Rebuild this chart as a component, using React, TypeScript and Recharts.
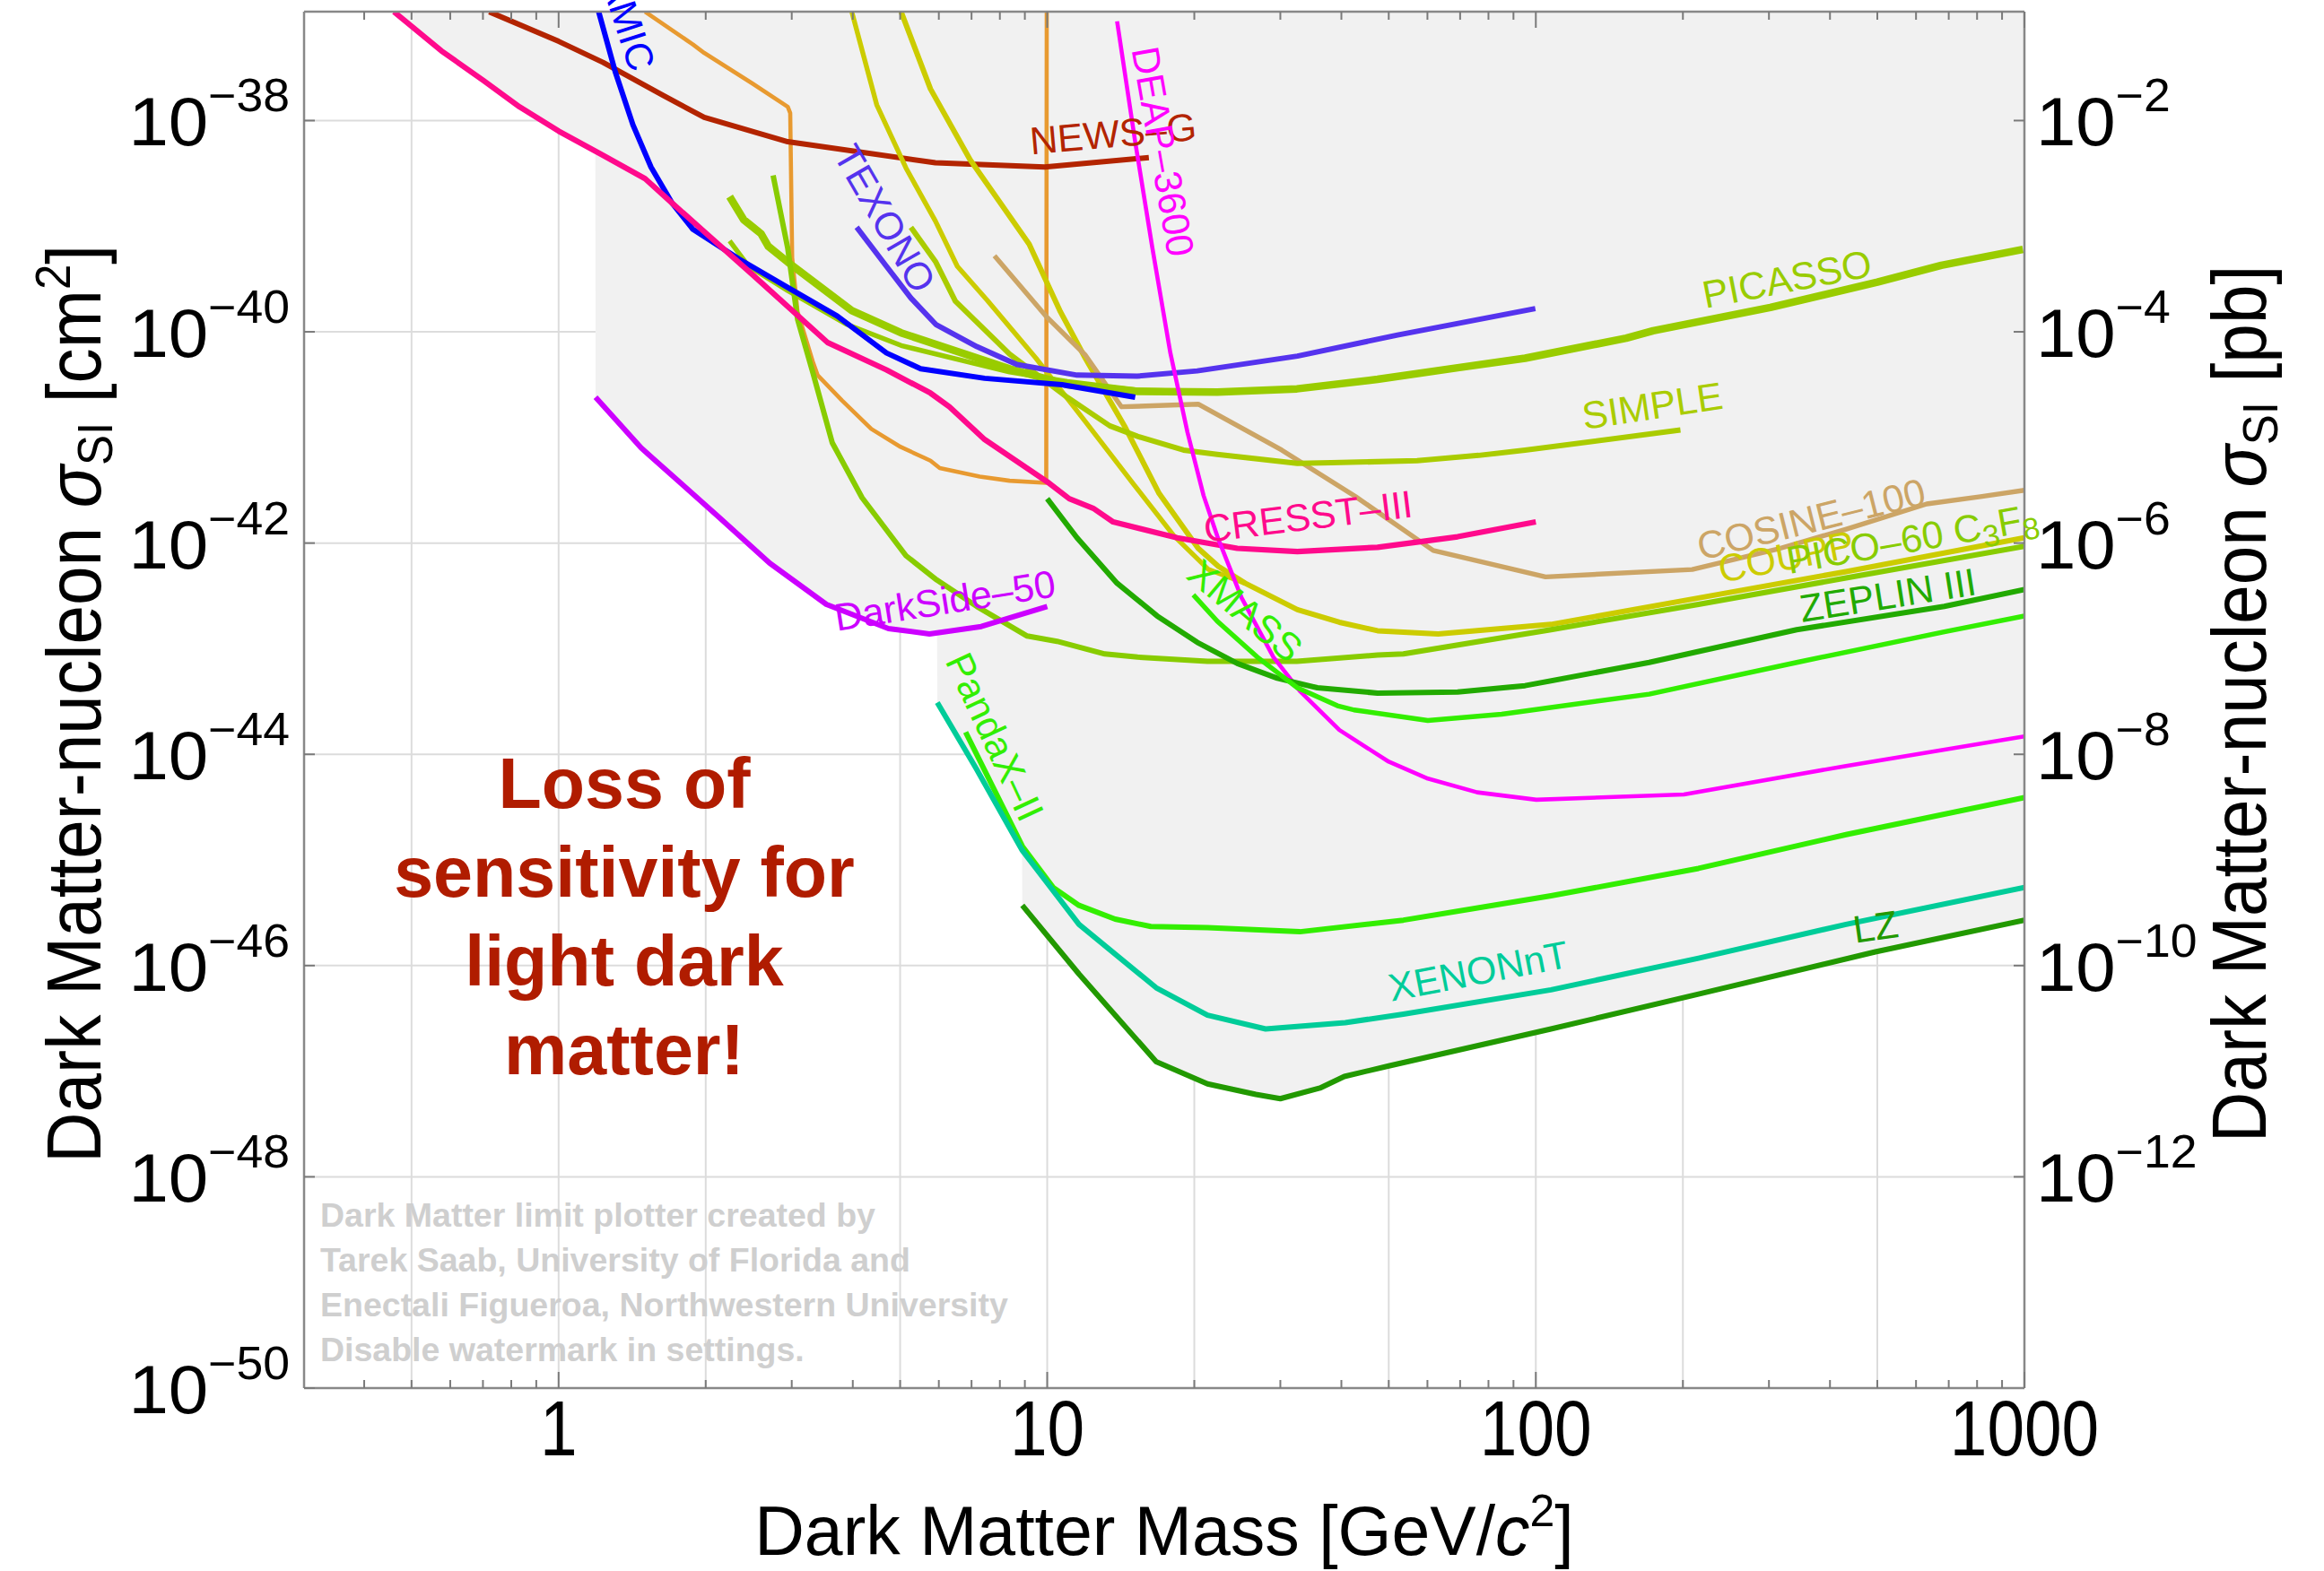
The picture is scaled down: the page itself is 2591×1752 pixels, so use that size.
import React from 'react';
import { ComposedChart, Line, Area, XAxis, YAxis, CartesianGrid, ReferenceDot } from 'recharts';

const WIDTH = 2591;
const HEIGHT = 1752;
const FONT = '"Liberation Sans", Arial, Helvetica, sans-serif';

// frame ranges, log10 units
const LX_MIN = -0.521;
const LX_MAX = 3;
const LY_MIN = -50;
const LY_TOP = -36.969;
const PB_SHIFT = 36; // 1 pb = 1e-36 cm^2

const X_TICKS = [0.4, 0.5, 0.6, 0.7, 0.8, 0.9, 1, 2, 3, 4, 5, 6, 7, 8, 9, 10, 20, 30, 40, 50, 60, 70, 80, 90,
  100, 200, 300, 400, 500, 600, 700, 800, 900, 1000];
const X_LABELS = [1, 10, 100, 1000];
const X_GRID = [0.5, 1, 2, 5, 10, 20, 50, 100, 200, 500];
const Y_EXP_CM2 = [-50, -48, -46, -44, -42, -40, -38];
const Y_EXP_PB = [-12, -10, -8, -6, -4, -2];
const Y_GRID_EXP = [-48, -46, -44, -42, -40, -38];

// curves: [log10(mass / GeV), log10(sigma / cm^2)]
const CRESST_III = [[-0.337, -36.97], [-0.24, -37.34], [-0.154, -37.62], [-0.08, -37.87], [0.0, -38.1], [0.091, -38.33],
  [0.177, -38.55], [0.232, -38.78], [0.397, -39.46], [0.55, -40.1], [0.671, -40.36], [0.761, -40.58], [0.8, -40.71],
  [0.872, -41.02], [1.0, -41.42], [1.045, -41.58], [1.094, -41.67], [1.135, -41.8], [1.266, -41.95], [1.389, -42.05],
  [1.512, -42.08], [1.676, -42.04], [1.84, -41.94], [2.0, -41.8]];
const DARKSIDE_50 = [[0.0756, -40.62], [0.169, -41.1], [0.327, -41.75], [0.432, -42.19], [0.548, -42.58], [0.675, -42.81],
  [0.759, -42.86], [0.865, -42.79], [1.0, -42.6]];
const XENON_NT = [[0.775, -43.51], [0.854, -44.13], [0.949, -44.91], [1.065, -45.61], [1.223, -46.21], [1.328, -46.47],
  [1.447, -46.6], [1.61, -46.54], [1.729, -46.46], [2.031, -46.23], [2.333, -45.93], [2.635, -45.61], [3.0, -45.26]];
const LZ = [[0.949, -45.43], [1.065, -46.08], [1.223, -46.91], [1.328, -47.12], [1.427, -47.22], [1.477, -47.26],
  [1.558, -47.16], [1.608, -47.05], [1.699, -46.95], [2.031, -46.6], [2.333, -46.27], [2.695, -45.87], [3.0, -45.57]];
const PANDAX_II = [[0.833, -43.79], [0.949, -44.87], [1.012, -45.26], [1.065, -45.43], [1.139, -45.56], [1.212, -45.63],
  [1.328, -45.64], [1.517, -45.68], [1.729, -45.57], [2.031, -45.34], [2.333, -45.08], [2.635, -44.76], [3.0, -44.41]];
const XMASS = [[1.299, -42.49], [1.348, -42.74], [1.43, -43.08], [1.512, -43.37], [1.594, -43.54], [1.628, -43.58],
  [1.779, -43.68], [1.93, -43.62], [2.232, -43.43], [2.534, -43.13], [2.836, -42.84], [3.0, -42.69]];
const ZEPLIN_III = [[1.0, -41.58], [1.061, -41.95], [1.143, -42.38], [1.225, -42.69], [1.307, -42.94], [1.389, -43.14],
  [1.471, -43.28], [1.553, -43.37], [1.676, -43.42], [1.84, -43.41], [1.978, -43.35], [2.232, -43.13], [2.534, -42.82],
  [2.836, -42.6], [3.0, -42.44]];
const DEAP_3600 = [[1.143, -37.06], [1.18, -38.2], [1.215, -39.2], [1.252, -40.2], [1.287, -40.95], [1.32, -41.55],
  [1.35, -41.96], [1.398, -42.52], [1.463, -43.08], [1.517, -43.4], [1.598, -43.77], [1.699, -44.07], [1.779, -44.23],
  [1.88, -44.36], [2.001, -44.43], [2.303, -44.38], [2.635, -44.11], [3.0, -43.83]];
const NEWS_G = [[-0.142, -36.97], [0.0, -37.25], [0.091, -37.45], [0.213, -37.76], [0.298, -37.97], [0.469, -38.2],
  [0.771, -38.4], [0.995, -38.44], [1.208, -38.35]];
const DAMIC = [[0.082, -36.97], [0.116, -37.54], [0.152, -38.04], [0.189, -38.44], [0.232, -38.78], [0.275, -39.03],
  [0.369, -39.31], [0.469, -39.58], [0.57, -39.85], [0.671, -40.2], [0.741, -40.35], [0.872, -40.44], [1.03, -40.5],
  [1.18, -40.62]];
const TEXONO = [[0.61, -39.01], [0.671, -39.38], [0.721, -39.68], [0.772, -39.93], [0.856, -40.14], [0.938, -40.31],
  [1.061, -40.41], [1.184, -40.42], [1.307, -40.37], [1.512, -40.23], [1.717, -40.03], [1.999, -39.78]];
const PICASSO = [[0.35, -38.72], [0.379, -38.94], [0.414, -39.07], [0.429, -39.19], [0.469, -39.34], [0.6, -39.8],
  [0.701, -40.01], [0.923, -40.35], [1.041, -40.5], [1.185, -40.565], [1.348, -40.57], [1.511, -40.54], [1.676, -40.45],
  [1.84, -40.34], [1.978, -40.25], [2.185, -40.06], [2.24, -39.99], [2.48, -39.77], [2.699, -39.53], [2.83, -39.37],
  [2.997, -39.22]];
const PICASSO_LOW = [[0.35, -39.14], [0.389, -39.38], [0.469, -39.61], [0.59, -39.93], [0.701, -40.13], [0.923, -40.38],
  [1.041, -40.47], [1.185, -40.55], [1.348, -40.57]];
const SIMPLE = [[0.721, -39.01], [0.772, -39.34], [0.812, -39.71], [0.923, -40.21], [1.041, -40.62], [1.128, -40.89],
  [1.185, -40.99], [1.279, -41.12], [1.348, -41.16], [1.512, -41.245], [1.581, -41.24], [1.757, -41.22], [1.883, -41.17],
  [1.978, -41.12], [2.296, -40.93]];
const COSINE_100 = [[0.892, -39.28], [0.997, -39.85], [1.078, -40.22], [1.152, -40.71], [1.309, -40.685], [1.48, -41.12],
  [1.631, -41.56], [1.79, -42.07], [2.02, -42.32], [2.32, -42.25], [2.5, -42.05], [2.634, -41.87], [2.8, -41.63],
  [2.91, -41.56], [3.0, -41.5]];
const COUPP = [[0.701, -36.97], [0.761, -37.7], [0.842, -38.37], [0.963, -39.17], [1.027, -39.81], [1.078, -40.25],
  [1.158, -40.89], [1.229, -41.53], [1.309, -42.05], [1.35, -42.22], [1.405, -42.38], [1.512, -42.63], [1.598, -42.75],
  [1.676, -42.83], [1.8, -42.86], [2.031, -42.77], [2.333, -42.52], [2.635, -42.27], [3.0, -41.95]];
const YELLOW_B = [[0.6, -36.97], [0.651, -37.85], [0.711, -38.45], [0.771, -38.95], [0.816, -39.38], [0.877, -39.7],
  [0.977, -40.25], [1.078, -40.85], [1.178, -41.45], [1.259, -41.93], [1.33, -42.25], [1.405, -42.38]];
const PICO_60 = [[0.439, -38.52], [0.469, -39.21], [0.489, -39.88], [0.52, -40.38], [0.56, -41.05], [0.621, -41.57],
  [0.711, -42.12], [0.774, -42.35], [0.856, -42.6], [0.959, -42.88], [1.02, -42.93], [1.118, -43.05], [1.185, -43.08],
  [1.328, -43.12], [1.511, -43.12], [1.676, -43.06], [1.729, -43.05], [2.031, -42.82], [2.333, -42.58], [2.635, -42.33],
  [3.0, -42.03]];
const ORANGE = [[0.177, -36.97], [0.275, -37.28], [0.298, -37.36], [0.397, -37.65], [0.469, -37.87], [0.474, -37.93],
  [0.478, -39.3], [0.489, -39.81], [0.52, -40.28], [0.53, -40.41], [0.58, -40.65], [0.64, -40.92], [0.7, -41.09],
  [0.761, -41.22], [0.78, -41.29], [0.862, -41.37], [0.923, -41.41], [0.998, -41.43], [0.999, -36.97]];

const SERIES = [
  { id: 'orange', pts: ORANGE, color: '#e89a30', w: 4.6 },
  { id: 'news', pts: NEWS_G, color: '#b32400', w: 6 },
  { id: 'yellowB', pts: YELLOW_B, color: '#cccc00', w: 5.4 },
  { id: 'coupp', pts: COUPP, color: '#cccc00', w: 6 },
  { id: 'cosine', pts: COSINE_100, color: '#cca566', w: 5.4 },
  { id: 'simple', pts: SIMPLE, color: '#aacc00', w: 6 },
  { id: 'picassoLow', pts: PICASSO_LOW, color: '#99cc00', w: 5.4 },
  { id: 'picasso', pts: PICASSO, color: '#99cc00', w: 8.5 },
  { id: 'pico', pts: PICO_60, color: '#88cc00', w: 6 },
  { id: 'texono', pts: TEXONO, color: '#5533ee', w: 6 },
  { id: 'damic', pts: DAMIC, color: '#0000ff', w: 6 },
  { id: 'cresst', pts: CRESST_III, color: '#ff0a8c', w: 6.2 },
  { id: 'darkside', pts: DARKSIDE_50, color: '#cc00ff', w: 6 },
  { id: 'deap', pts: DEAP_3600, color: '#ff00ff', w: 4.6 },
  { id: 'zeplin', pts: ZEPLIN_III, color: '#22aa00', w: 6 },
  { id: 'xmass', pts: XMASS, color: '#33ee00', w: 5.4 },
  { id: 'pandax', pts: PANDAX_II, color: '#33ee00', w: 6 },
  { id: 'xenonnt', pts: XENON_NT, color: '#00cc99', w: 6 },
  { id: 'lz', pts: LZ, color: '#229900', w: 6 },
];

// label anchors in the same log units, angle in degrees
const CURVE_LABELS = [
  { text: 'DAMIC', lx: 0.147, ly: -37.555, angle: 72, color: '#0000ff', anchor: 'end' },
  { text: 'NEWS\u2013G', lx: 0.9667, ly: -38.32, angle: -5, color: '#b32400' },
  { text: 'TEXONO', lx: 0.5605, ly: -38.323, angle: 60, color: '#5533ee' },
  { text: 'DEAP\u20133600', lx: 1.1723, ly: -37.325, angle: 80, color: '#ff00ff' },
  { text: 'PICASSO', lx: 2.347, ly: -39.779, angle: -11, color: '#99cc00' },
  { text: 'SIMPLE', lx: 2.0992, ly: -40.924, angle: -8.5, color: '#aacc00' },
  { text: 'COSINE\u2013100', lx: 2.338, ly: -42.164, angle: -14, color: '#cca566' },
  { text: 'COUPP', lx: 2.3797, ly: -42.377, angle: -11, color: '#cccc00' },
  { text: 'PICO', lx: 2.5184, ly: -42.291, angle: -10, color: '#88cc00' },
  { text: 'ZEPLIN III', lx: 2.5449, ly: -42.75, angle: -9, color: '#22aa00' },
  { text: 'CRESST\u2013III', lx: 1.324, ly: -41.994, angle: -7, color: '#ff0a8c' },
  { text: 'XMASS', lx: 1.2818, ly: -42.325, angle: 40, color: '#33ee00' },
  { text: 'DarkSide\u201350', lx: 0.5694, ly: -42.834, angle: -9, color: '#cc00ff' },
  { text: 'PandaX\u2013II', lx: 0.79, ly: -43.115, angle: 65, color: '#33ee00' },
  { text: 'XENONnT', lx: 1.7045, ly: -46.34, angle: -11, color: '#00cc99' },
  { text: 'LZ', lx: 2.6535, ly: -45.788, angle: -8, color: '#229900' },
];

const RED_LINES = ['Loss of', 'sensitivity for', 'light dark', 'matter!'];
const WATERMARK = ['Dark Matter limit plotter created by', 'Tarek Saab, University of Florida and',
  'Enectali Figueroa, Northwestern University', 'Disable watermark in settings.'];

const toData = (pts: number[][]) => pts.map(([lx, ly]) => ({ m: 10 ** lx, s: 10 ** ly }));

// lowest limit at a given mass, used for the grey excluded region
function curveMin(c: number[][], lx: number) {
  let best: number | null = null;
  for (let i = 0; i < c.length - 1; i++) {
    const [x0, y0] = c[i];
    const [x1, y1] = c[i + 1];
    if (lx < Math.min(x0, x1) || lx > Math.max(x0, x1)) continue;
    const y = Math.abs(x1 - x0) < 1e-9 ? Math.min(y0, y1) : y0 + ((y1 - y0) * (lx - x0)) / (x1 - x0);
    if (best === null || y < best) best = y;
  }
  return best;
}

function envelope() {
  const xs: number[] = [];
  for (let i = 0; i <= 700; i++) xs.push(LX_MIN + ((LX_MAX - LX_MIN) * i) / 700);
  SERIES.forEach((s) => s.pts.forEach(([lx]) => xs.push(lx - 0.0005, lx, lx + 0.0005)));
  const uniq = Array.from(new Set(xs.filter((v) => v >= LX_MIN && v <= LX_MAX).map((v) => +v.toFixed(5))));
  uniq.sort((a, b) => a - b);
  return uniq.map((lx) => {
    let best = LY_TOP;
    SERIES.forEach((s) => {
      const y = curveMin(s.pts, lx);
      if (y !== null && y < best) best = y;
    });
    return { m: 10 ** lx, s: 10 ** best };
  });
}

const ENV = envelope();
const TICK = '#7a7a7a';

function BottomTick(p: any) {
  const { x, y, payload } = p;
  const v = payload?.value;
  const major = X_LABELS.includes(v);
  return (
    <g>
      <line x1={x} x2={x} y1={y} y2={y - (major ? 18 : 9)} stroke={TICK} strokeWidth={2} />
      {major ? (
        <text transform={`translate(${x},${y + 75}) scale(0.85,1)`} x={0} y={0} textAnchor="middle"
          fontSize={88} fontFamily={FONT} fill="#000">{String(v)}</text>
      ) : null}
    </g>
  );
}

function TopTick(p: any) {
  const { x, y, payload } = p;
  const major = X_LABELS.includes(payload?.value);
  return <line x1={x} x2={x} y1={y} y2={y + (major ? 18 : 9)} stroke={TICK} strokeWidth={2} />;
}

function PowerLabel({ x, y, exp, anchor }: any) {
  return (
    <text transform={`translate(${x},${y + 28}) scale(1.05,1)`} x={0} y={0} textAnchor={anchor}
      fontFamily={FONT} fill="#000">
      <tspan fontSize={76}>10</tspan>
      <tspan fontSize={51} dy={-38}>{'\u2212' + Math.abs(exp)}</tspan>
    </text>
  );
}

function LeftTick(p: any) {
  const { x, y, payload } = p;
  const exp = Math.round(Math.log10(payload?.value));
  return (
    <g>
      <line x1={x} x2={x + 12} y1={y} y2={y} stroke={TICK} strokeWidth={2} />
      <PowerLabel x={x - 16} y={y} exp={exp} anchor="end" />
    </g>
  );
}

function RightTick(p: any) {
  const { x, y, payload } = p;
  const exp = Math.round(Math.log10(payload?.value));
  return (
    <g>
      <line x1={x} x2={x - 12} y1={y} y2={y} stroke={TICK} strokeWidth={2} />
      <PowerLabel x={x + 13} y={y} exp={exp} anchor="start" />
    </g>
  );
}

function CurveLabel({ cx, cy, item }: any) {
  if (cx == null || cy == null) return <g />;
  return (
    <text transform={`translate(${cx},${cy}) rotate(${item.angle})`} x={0} y={0} fill={item.color}
      fontSize={43} fontFamily={FONT} textAnchor={item.anchor || 'start'}>
      {item.text === 'PICO' ? (
        <>
          <tspan>{'PICO\u201360 C'}</tspan>
          <tspan fontSize={34} dy={9}>3</tspan>
          <tspan dy={-9}>F</tspan>
          <tspan fontSize={34} dy={9}>8</tspan>
        </>
      ) : item.text}
    </text>
  );
}

const xPix = (xAxis: any, offset: any, v: number) => {
  if (xAxis && typeof xAxis.scale === 'function') return xAxis.scale(v);
  const left = offset?.left ?? 339;
  const w = offset?.width ?? 1918;
  return left + (w * (Math.log10(v) - LX_MIN)) / (LX_MAX - LX_MIN);
};
const yPix = (yAxis: any, offset: any, v: number) => {
  if (yAxis && typeof yAxis.scale === 'function') return yAxis.scale(v);
  const top = offset?.top ?? 13;
  const h = offset?.height ?? 1535;
  return top + (h * (LY_TOP - Math.log10(v))) / (LY_TOP - LY_MIN);
};

const frameLine = { stroke: '#888', strokeWidth: 2.5 };

function SideTitle({ x, unit }: any) {
  return (
    <text transform={`translate(${x},785) rotate(-90) scale(0.91,1)`} textAnchor="middle" fontSize={86} fill="#000">
      {'Dark Matter-nucleon '}
      <tspan fontStyle="italic">{'\u03c3'}</tspan>
      <tspan fontSize={56} dy={13}>SI</tspan>
      {unit === 'cm' ? (
        <>
          <tspan dy={-13}>{' [cm'}</tspan>
          <tspan fontSize={56} dy={-34}>2</tspan>
          <tspan dy={34}>]</tspan>
        </>
      ) : (
        <tspan dy={-13}>{' [pb]'}</tspan>
      )}
    </text>
  );
}

export default function App() {
  return (
    <div style={{ position: 'absolute', left: 0, top: 0, width: WIDTH, height: HEIGHT, background: '#fff', overflow: 'hidden' }}>
      <ComposedChart width={WIDTH} height={HEIGHT} margin={{ top: 0, right: 0, bottom: 0, left: 0 }}>
        <XAxis xAxisId="b" dataKey="m" type="number" scale="log" domain={[10 ** LX_MIN, 10 ** LX_MAX]} allowDataOverflow
          ticks={X_TICKS} interval={0} height={204} tickSize={0} tickMargin={0} tickLine={false}
          axisLine={frameLine} tick={(p: any) => <BottomTick {...p} />} />
        <XAxis xAxisId="t" dataKey="m" orientation="top" type="number" scale="log" domain={[10 ** LX_MIN, 10 ** LX_MAX]}
          allowDataOverflow ticks={X_TICKS} interval={0} height={13} tickSize={0} tickMargin={0} tickLine={false}
          axisLine={frameLine} tick={(p: any) => <TopTick {...p} />} />
        <YAxis yAxisId="left" type="number" scale="log" domain={[10 ** LY_MIN, 10 ** LY_TOP]} allowDataOverflow
          ticks={Y_EXP_CM2.map((e) => 10 ** e)} interval={0} width={339} tickSize={0} tickMargin={0} tickLine={false}
          axisLine={frameLine} tick={(p: any) => <LeftTick {...p} />} />
        <YAxis yAxisId="right" orientation="right" type="number" scale="log"
          domain={[10 ** (LY_MIN + PB_SHIFT), 10 ** (LY_TOP + PB_SHIFT)]} allowDataOverflow
          ticks={Y_EXP_PB.map((e) => 10 ** e)} interval={0} width={334} tickSize={0} tickMargin={0} tickLine={false}
          axisLine={frameLine} tick={(p: any) => <RightTick {...p} />} />
        <CartesianGrid xAxisId="b" yAxisId="left" stroke="#dcdcdc" strokeWidth={2}
          verticalCoordinatesGenerator={({ xAxis, offset }: any) => X_GRID.map((v) => xPix(xAxis, offset, v))}
          horizontalCoordinatesGenerator={({ yAxis, offset }: any) => Y_GRID_EXP.map((e) => yPix(yAxis, offset, 10 ** e))} />
        <Area xAxisId="b" yAxisId="left" data={ENV} dataKey="s" type="linear" baseValue={10 ** LY_TOP}
          stroke="none" fill="#f1f1f1" fillOpacity={1} dot={false} activeDot={false} isAnimationActive={false} />
        {SERIES.map((s) => (
          <Line key={s.id} xAxisId="b" yAxisId="left" data={toData(s.pts)} dataKey="s" type="linear"
            stroke={s.color} strokeWidth={s.w} strokeLinejoin="round" dot={false} activeDot={false}
            isAnimationActive={false} />
        ))}
        {CURVE_LABELS.map((l) => (
          <ReferenceDot key={l.text} xAxisId="b" yAxisId="left" x={10 ** l.lx} y={10 ** l.ly} r={0}
            ifOverflow="hidden" shape={(p: any) => <CurveLabel {...p} item={l} />} />
        ))}
      </ComposedChart>
      <svg width={WIDTH} height={HEIGHT} style={{ position: 'absolute', left: 0, top: 0, pointerEvents: 'none' }}
        fontFamily={FONT}>
        {WATERMARK.map((t, i) => (
          <text key={t} x={357} y={1368 + i * 50} fontSize={37.5} fontWeight="bold" fill="#cfcfcf">{t}</text>
        ))}
        {RED_LINES.map((t, i) => (
          <text key={t} x={696} y={901 + i * 99} textAnchor="middle" fontSize={79} fontWeight="bold" fill="#b01c00">{t}</text>
        ))}
        <SideTitle x={112} unit="cm" />
        <SideTitle x={2526} unit="pb" />
        <text x={1298} y={1734} textAnchor="middle" fontSize={77} fill="#000">
          {'Dark Matter Mass [GeV/'}
          <tspan fontStyle="italic">c</tspan>
          <tspan fontSize={50} dy={-32}>2</tspan>
          <tspan dy={32}>]</tspan>
        </text>
      </svg>
    </div>
  );
}
